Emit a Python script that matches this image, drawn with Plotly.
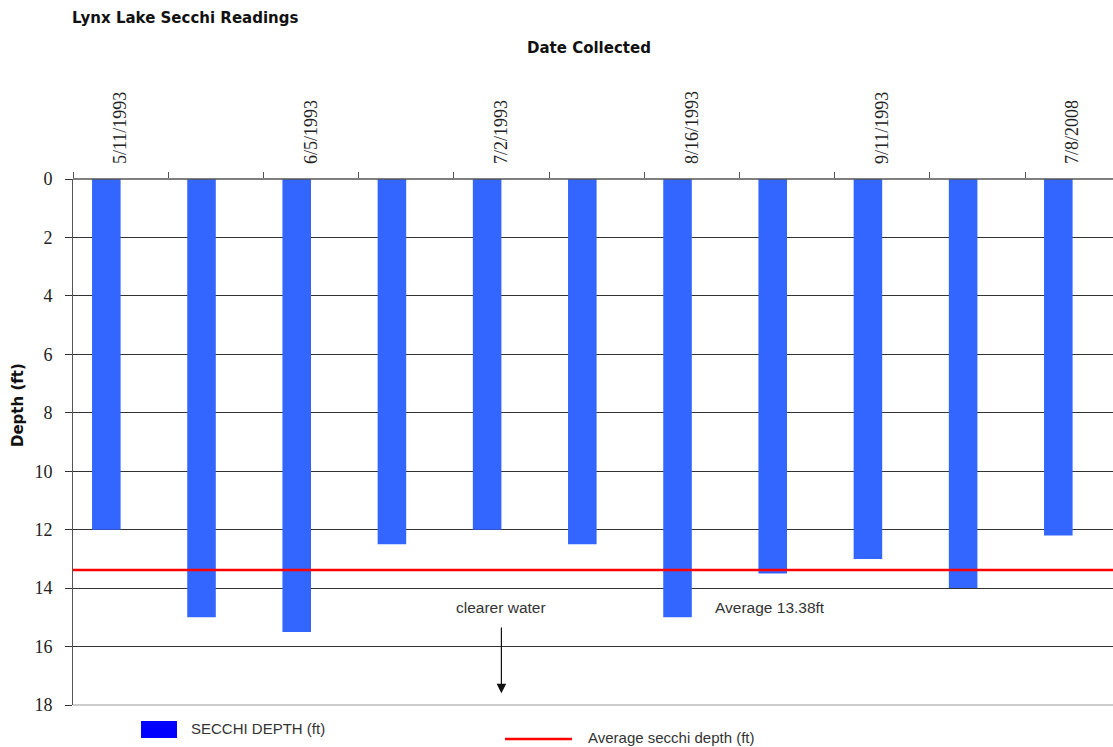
import plotly.graph_objects as go

# ---- data ----
dates = ["5/11/1993", "", "6/5/1993", "", "7/2/1993", "", "8/16/1993", "", "9/11/1993", "", "7/8/2008"]
secchi_depth = [12.0, 15.0, 15.5, 12.5, 12.0, 12.5, 15.0, 13.5, 13.0, 14.0, 12.2]
average_depth = round(sum(secchi_depth) / len(secchi_depth), 2)
y_ticks = [0, 2, 4, 6, 8, 10, 12, 14, 16, 18]

W, H = 1113, 747
L, T, B = 73, 179, 705
R = W
pw, ph = R - L, B - T
cat_px = 95.2

def px_x(x):
    return (x - L) / pw

def px_y(y):
    return (B - y) / ph

idx = list(range(len(dates)))
x_end = -0.5 + pw / cat_px

fig = go.Figure()
fig.add_trace(go.Bar(
    x=idx, y=secchi_depth, width=0.3, offset=-0.3,
    marker=dict(color="#3366FF", line=dict(width=0)),
    name="SECCHI DEPTH (ft)", showlegend=False,
))

# average line
fig.add_shape(type="line", xref="paper", yref="y", x0=0, x1=1,
              y0=average_depth, y1=average_depth,
              line=dict(color="#FF0000", width=2.5), layer="above")

label_vals = [i for i, d in enumerate(dates) if d]
label_text = [d for d in dates if d]

serif = "Liberation Serif"
fig.update_layout(
    width=W, height=H,
    margin=dict(l=L, r=0, t=T, b=H - B, pad=0),
    paper_bgcolor="white", plot_bgcolor="white",
    bargap=0.4,
    showlegend=False,
    xaxis=dict(
        side="top", range=[-0.5, x_end],
        tickmode="array", tickvals=label_vals, ticktext=label_text,
        tickangle=-90, ticks="", showgrid=False, zeroline=False,
        tickfont=dict(family=serif, size=18, color="#222"),
        ticklabelstandoff=14,
        showline=False,
        minor=dict(tick0=-0.5, dtick=1, ticks="outside", ticklen=6,
                   tickcolor="#555", showgrid=False),
    ),
    yaxis=dict(
        range=[18, 0], tickmode="array", tickvals=y_ticks,
        ticks="outside", ticklen=7, tickcolor="#333",
        showgrid=True, gridcolor="#333", gridwidth=1,
        zeroline=False, showline=True, linecolor="#555", linewidth=1,
        tickfont=dict(family=serif, size=18, color="#222"),
        ticklabelstandoff=9,
    ),
)

# bottom light line at 18
fig.add_shape(type="line", xref="paper", yref="paper", x0=0, x1=1, y0=0, y1=0,
              line=dict(color="#BBBBBB", width=1.5))
# top axis line
fig.add_shape(type="line", xref="paper", yref="paper", x0=0, x1=1, y0=1, y1=1,
              line=dict(color="#555555", width=1.5))

sans = "Liberation Sans"
# titles
fig.add_annotation(text="<b>Lynx Lake Secchi Readings</b>", xref="paper", yref="paper",
                   x=px_x(70), y=px_y(18), xanchor="left", yanchor="middle", showarrow=False,
                   font=dict(family="DejaVu Sans", size=15, color="#111"))
fig.add_annotation(text="<b>Date Collected</b>", xref="paper", yref="paper",
                   x=px_x(589), y=px_y(48), xanchor="center", yanchor="middle", showarrow=False,
                   font=dict(family="DejaVu Sans", size=15, color="#111"))
fig.add_annotation(text="<b>Depth (ft)</b>", xref="paper", yref="paper",
                   x=px_x(18), y=px_y(405), xanchor="center", yanchor="middle", showarrow=False,
                   textangle=-90, font=dict(family="DejaVu Sans", size=15, color="#111"))

# annotations inside plot
fig.add_annotation(text="clearer water", x=4, y=14.65, xref="x", yref="y",
                   showarrow=False, font=dict(family=sans, size=15.5, color="#333"))
fig.add_annotation(x=4, y=17.6, ax=4, ay=15.3, xref="x", yref="y", axref="x", ayref="y",
                   text="", showarrow=True, arrowhead=2, arrowsize=1.6, arrowwidth=1.2,
                   arrowcolor="#111")
fig.add_annotation(text=f"Average {average_depth}ft", x=6.82, y=14.65, xref="x", yref="y",
                   showarrow=False, font=dict(family=sans, size=15.5, color="#333"))

# legend (manual)
fig.add_shape(type="rect", xref="paper", yref="paper",
              x0=px_x(141), x1=px_x(177), y0=px_y(738), y1=px_y(721),
              fillcolor="#0000FF", line=dict(width=0))
fig.add_annotation(text="SECCHI DEPTH (ft)", xref="paper", yref="paper",
                   x=px_x(189), y=px_y(728), xanchor="left", yanchor="middle", showarrow=False,
                   font=dict(family=sans, size=15, color="#333"))
fig.add_shape(type="line", xref="paper", yref="paper",
              x0=px_x(505), x1=px_x(572), y0=px_y(739), y1=px_y(739),
              line=dict(color="#FF0000", width=2.5))
fig.add_annotation(text="Average secchi depth (ft)", xref="paper", yref="paper",
                   x=px_x(586), y=px_y(737), xanchor="left", yanchor="middle", showarrow=False,
                   font=dict(family=sans, size=15, color="#333"))

fig.write_html("out.html", config={"displayModeBar": False},
               post_script="document.body.style.margin='0';document.body.style.overflow='hidden';")
